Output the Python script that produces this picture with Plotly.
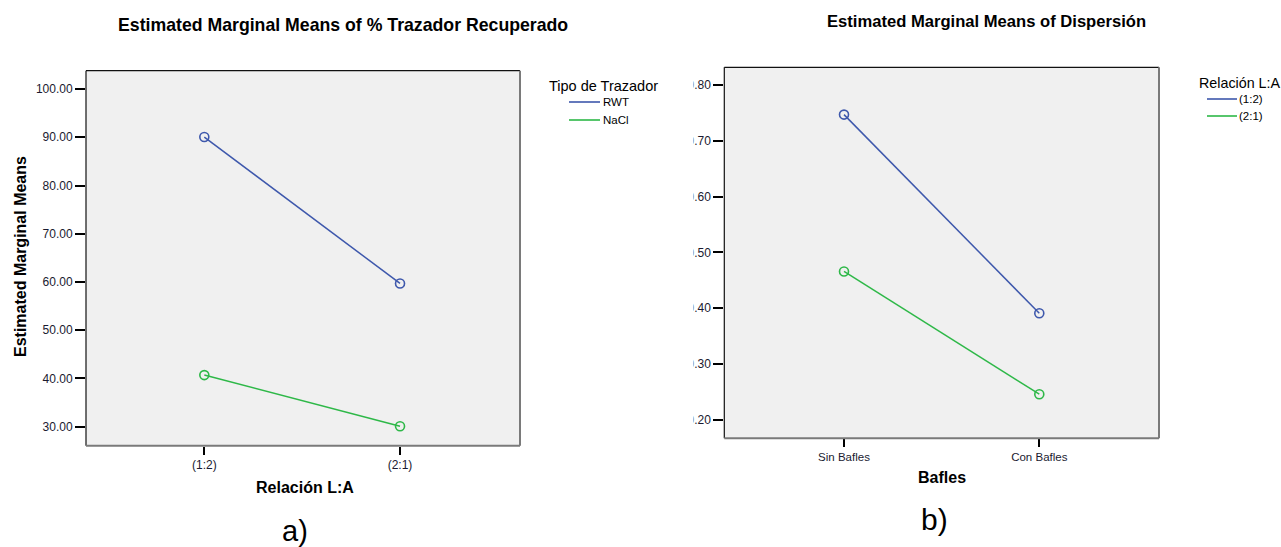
import plotly.graph_objects as go

# ---- data ----
rel_labels = ["(1:2)", "(2:1)"]
rwt_values = [90.05, 59.7]
nacl_values = [40.7, 30.1]

bafles_labels = ["Sin Bafles", "Con Bafles"]
rel12_values = [0.747, 0.391]
rel21_values = [0.466, 0.246]

left_yticks = [30, 40, 50, 60, 70, 80, 90, 100]
right_yticks = [0.2, 0.3, 0.4, 0.5, 0.6, 0.7, 0.8]

W, H = 1281, 547
BLUE = "#3E58AC"
GREEN = "#2EB848"
FONT = "Arial, Liberation Sans, sans-serif"
TXT = "#1a1a30"


def X(px):
    return px / W


def Y(py):
    return 1 - py / H


fig = go.Figure()

marker = dict(symbol="circle-open", size=9, line=dict(width=1.6))
fig.add_trace(go.Scatter(x=[0, 1], y=rwt_values, mode="lines+markers", name="RWT",
                         line=dict(color=BLUE, width=1.5), marker=dict(color=BLUE, **marker),
                         xaxis="x", yaxis="y", showlegend=False))
fig.add_trace(go.Scatter(x=[0, 1], y=nacl_values, mode="lines+markers", name="NaCl",
                         line=dict(color=GREEN, width=1.5), marker=dict(color=GREEN, **marker),
                         xaxis="x", yaxis="y", showlegend=False))
fig.add_trace(go.Scatter(x=[0, 1], y=rel12_values, mode="lines+markers", name="(1:2)",
                         line=dict(color=BLUE, width=1.5), marker=dict(color=BLUE, **marker),
                         xaxis="x2", yaxis="y2", showlegend=False))
fig.add_trace(go.Scatter(x=[0, 1], y=rel21_values, mode="lines+markers", name="(2:1)",
                         line=dict(color=GREEN, width=1.5), marker=dict(color=GREEN, **marker),
                         xaxis="x2", yaxis="y2", showlegend=False))

L = dict(x0=86, x1=520, y0=70.7, y1=445.7)
R = dict(x0=724.3, x1=1159, y0=67.3, y1=438.3)

axis_common = dict(showgrid=False, zeroline=False, showline=False, ticks="outside",
                   tickcolor="black", tickwidth=2, tickfont=dict(family=FONT, size=12, color=TXT))

fig.update_layout(
    width=W, height=H, autosize=False,
    margin=dict(l=0, r=0, t=0, b=0),
    paper_bgcolor="white", plot_bgcolor="#F0F0F0",
    font=dict(family=FONT, color="black"),
    xaxis=dict(domain=[X(L["x0"]), X(L["x1"])], range=[-0.6045, 1.613],
               tickvals=[0, 1], ticktext=rel_labels, ticklen=8, anchor="y", **axis_common),
    yaxis=dict(domain=[Y(L["y1"]), Y(L["y0"])], range=[26.06, 103.8],
               tickvals=left_yticks, ticktext=[f"{v:.2f}" for v in left_yticks],
               ticklen=10, anchor="x", **axis_common),
    xaxis2=dict(domain=[X(R["x0"]), X(R["x1"])], range=[-0.613, 1.613],
                tickvals=[0, 1], ticktext=bafles_labels, ticklen=8, anchor="y2",
                **{**axis_common, "tickfont": dict(family=FONT, size=11.5, color=TXT)}),
    yaxis2=dict(domain=[Y(R["y1"]), Y(R["y0"])], range=[0.167, 0.8318],
                tickvals=right_yticks, ticktext=[f"{v:.2f}" for v in right_yticks],
                ticklen=10, anchor="x2", **axis_common),
)

shapes = []
for P in (L, R):
    # top & left black border, right & bottom grey shadow border
    shapes.append(dict(type="line", xref="paper", yref="paper", x0=X(P["x0"]), x1=X(P["x1"]),
                       y0=Y(P["y0"]), y1=Y(P["y0"]), line=dict(color="#111111", width=1.2)))
    shapes.append(dict(type="line", xref="paper", yref="paper", x0=X(P["x0"]), x1=X(P["x0"]),
                       y0=Y(P["y0"]), y1=Y(P["y1"]), line=dict(color="#111111", width=1.2)))
    shapes.append(dict(type="line", xref="paper", yref="paper", x0=X(P["x1"]), x1=X(P["x1"]),
                       y0=Y(P["y0"]), y1=Y(P["y1"]), line=dict(color="#7a7a7a", width=2)))
    shapes.append(dict(type="line", xref="paper", yref="paper", x0=X(P["x0"]), x1=X(P["x1"]),
                       y0=Y(P["y1"]), y1=Y(P["y1"]), line=dict(color="#7a7a7a", width=2)))

# legend lines
for (x0, x1, y, c) in [(569, 600, 102, BLUE), (569, 600, 120, GREEN),
                       (1207, 1237, 99, BLUE), (1207, 1237, 116, GREEN)]:
    shapes.append(dict(type="line", xref="paper", yref="paper", x0=X(x0), x1=X(x1),
                       y0=Y(y), y1=Y(y), line=dict(color=c, width=1.6)))

# clip of the leading digit in the right-hand panel (cropped original)
shapes.append(dict(type="rect", xref="paper", yref="paper", x0=X(676), x1=X(693.5),
                   y0=Y(60), y1=Y(440), fillcolor="white", line=dict(width=0), layer="above"))
fig.update_layout(shapes=shapes)

ann = []


def text(t, x, y, size, bold=False, xanchor="center", angle=0, color="black"):
    ann.append(dict(text=f"<b>{t}</b>" if bold else t, x=X(x), y=Y(y), xref="paper", yref="paper",
                    showarrow=False, xanchor=xanchor, yanchor="middle", textangle=angle,
                    font=dict(family=FONT, size=size, color=color)))


text("Estimated Marginal Means of % Trazador Recuperado", 343, 25, 17.7, bold=True)
text("Estimated Marginal Means of Dispersión", 986, 21, 16.6, bold=True)
text("Estimated Marginal Means", 20, 257, 16, bold=True, angle=-90)
text("Relación L:A", 305, 487, 16, bold=True)
text("Bafles", 942, 478, 16, bold=True)
text("a)", 294.5, 531, 29)
text("b)", 934, 519, 30)
text("Tipo de Trazador", 547, 86, 14.5, xanchor="left")
text("RWT", 601, 102, 11.5, xanchor="left")
text("NaCl", 601, 120, 11.5, xanchor="left")
text("Relación L:A", 1197, 83, 14.3, xanchor="left")
text("(1:2)", 1237, 99, 11.5, xanchor="left")
text("(2:1)", 1237, 116, 11.5, xanchor="left")
fig.update_layout(annotations=ann)

fig.write_html("out.html")
